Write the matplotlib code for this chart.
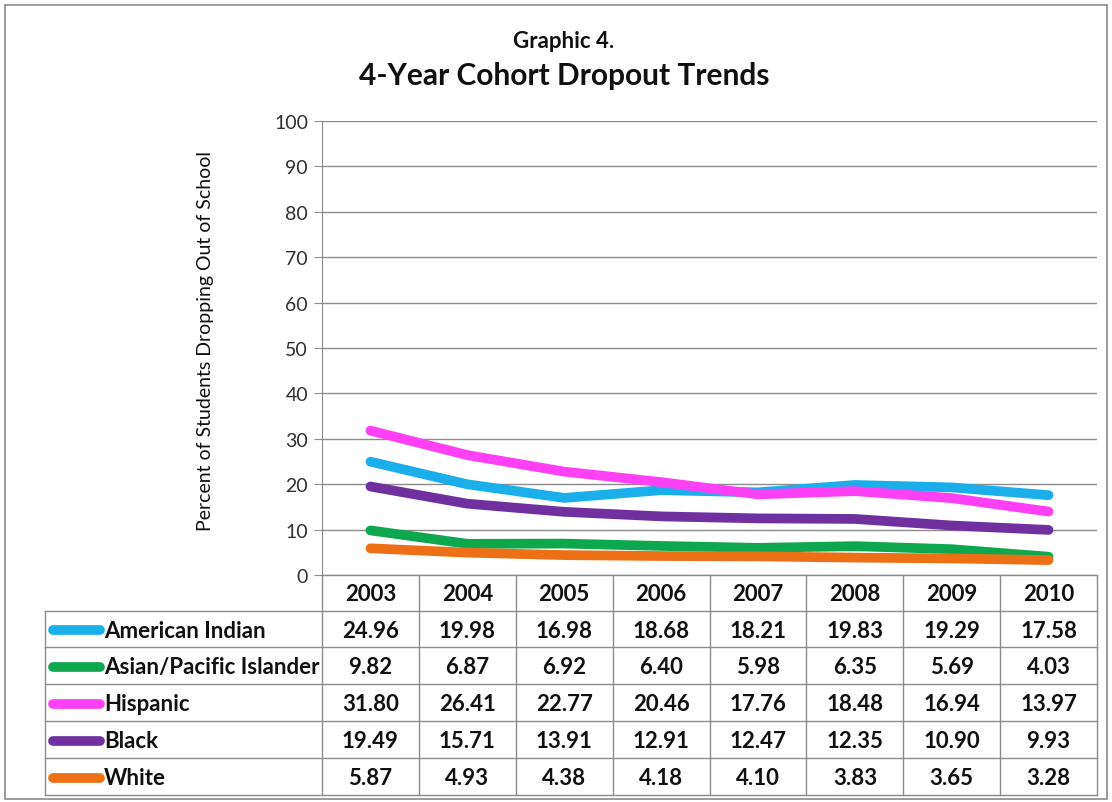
import matplotlib
matplotlib.use("Agg")
import matplotlib.pyplot as plt
from matplotlib.lines import Line2D
from matplotlib.patches import Rectangle

years = ["2003", "2004", "2005", "2006", "2007", "2008", "2009", "2010"]
series_names = ["American Indian", "Asian/Pacific Islander", "Hispanic", "Black", "White"]
american_indian = [24.96, 19.98, 16.98, 18.68, 18.21, 19.83, 19.29, 17.58]
asian_pacific = [9.82, 6.87, 6.92, 6.40, 5.98, 6.35, 5.69, 4.03]
hispanic = [31.80, 26.41, 22.77, 20.46, 17.76, 18.48, 16.94, 13.97]
black = [19.49, 15.71, 13.91, 12.91, 12.47, 12.35, 10.90, 9.93]
white = [5.87, 4.93, 4.38, 4.18, 4.10, 3.83, 3.65, 3.28]
series_values = [american_indian, asian_pacific, hispanic, black, white]
colors = ["#1AAFEA", "#0DA84E", "#FF40F5", "#7030A0", "#EE7016"]
y_ticks = [0, 10, 20, 30, 40, 50, 60, 70, 80, 90, 100]

plt.rcParams['font.family'] = ['Lato', 'DejaVu Sans']

W, H = 1112, 803
fig = plt.figure(figsize=(W / 100, H / 100), dpi=100)
fig.patch.set_facecolor("white")

def fx(px):
    return px / W

def fy(py):
    return 1 - py / H

# outer border
fig.add_artist(Rectangle((fx(5), fy(800)), fx(1107) - fx(5), fy(6) - fy(800),
                         transform=fig.transFigure, fill=False, edgecolor="#8a8a8a", lw=1.2))

ax_l, ax_r, ax_t, ax_b = 322, 1097, 122, 576
ax = fig.add_axes([fx(ax_l), fy(ax_b), fx(ax_r) - fx(ax_l), fy(ax_t) - fy(ax_b)])
x = list(range(len(years)))
for vals, c in zip(series_values, colors):
    ax.plot(x, vals, color=c, lw=7, solid_capstyle="round", solid_joinstyle="round", zorder=3)
ax.set_xlim(-0.5, len(years) - 0.5)
ax.set_ylim(0, 100)
ax.set_yticks(y_ticks)
ax.set_xticks([])
ax.grid(axis="y", color="#8c8c8c", lw=1)
ax.set_axisbelow(True)
for s in ["top", "right", "bottom"]:
    ax.spines[s].set_visible(False)
ax.spines["left"].set_color("#8c8c8c")
ax.tick_params(axis="y", length=6, color="#8c8c8c", labelsize=14, labelcolor="#303030", pad=4)

fig.text(fx(206), fy(341), "Percent of Students Dropping Out of School", rotation=90,
         ha="center", va="center", fontsize=14, color="#101010")
fig.text(fx(564), fy(42), "Graphic 4.", ha="center", va="center", fontsize=16,
         fontweight="bold", color="#101010")
fig.text(fx(564), fy(76), "4-Year Cohort Dropout Trends", ha="center", va="center",
         fontsize=21.5, fontweight="bold", color="#101010")

# data table
tab_left = 45
col_w = (ax_r - ax_l) / len(years)
row_tops = [612, 648, 685, 722, 759, 796]
grid_c = "#8c8c8c"

def hline(y, x0, x1):
    fig.add_artist(Line2D([fx(x0), fx(x1)], [fy(y), fy(y)], transform=fig.transFigure,
                          color=grid_c, lw=1))

def vline(xp, y0, y1):
    fig.add_artist(Line2D([fx(xp), fx(xp)], [fy(y0), fy(y1)], transform=fig.transFigure,
                          color=grid_c, lw=1))

hline(ax_b, ax_l, ax_r)
for yy in row_tops:
    hline(yy, tab_left, ax_r)
vline(tab_left, row_tops[0], row_tops[-1])
for i in range(len(years) + 1):
    vline(ax_l + i * col_w, ax_b, row_tops[-1])

tfs = 16
for i, yr in enumerate(years):
    fig.text(fx(ax_l + (i + 0.5) * col_w), fy((ax_b + row_tops[0]) / 2 + 1), yr,
             ha="center", va="center", fontsize=tfs, fontweight="bold", color="#101010")

for r, (name, vals, c) in enumerate(zip(series_names, series_values, colors)):
    yc = (row_tops[r] + row_tops[r + 1]) / 2 + 1
    fig.add_artist(Line2D([fx(53), fx(100)], [fy(yc), fy(yc)], transform=fig.transFigure,
                          color=c, lw=7, solid_capstyle="round"))
    fig.text(fx(104), fy(yc), name, ha="left", va="center", fontsize=tfs,
             fontweight="bold", color="#101010")
    for i, v in enumerate(vals):
        fig.text(fx(ax_l + (i + 0.5) * col_w), fy(yc), f"{v:.2f}", ha="center", va="center",
                 fontsize=tfs, fontweight="bold", color="#101010")

fig.savefig("out.png", dpi=100, facecolor="white")
